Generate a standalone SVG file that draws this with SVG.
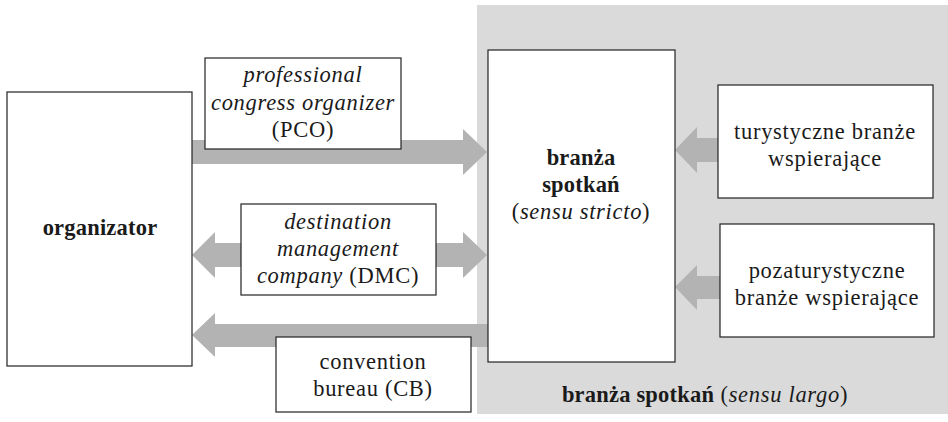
<svg xmlns="http://www.w3.org/2000/svg" width="948" height="422" viewBox="0 0 948 422">
  <style>
    .t { text-anchor: middle; letter-spacing: 0.7px; }
    .b { font-weight: bold; letter-spacing: 0.2px; }
    .i { font-style: italic; }
    .box { fill: #ffffff; stroke: #222222; stroke-width: 1.2; }
    .arrow { fill: #b3b3b3; }
  </style>
  <rect width="948" height="422" fill="#ffffff"/>
  <g font-family="Liberation Serif, Times New Roman, serif" font-size="22.5" fill="#1a1a1a">
    <!-- sensu largo area -->
    <g id="sensu-largo">
      <rect x="477" y="5" width="471" height="409" fill="#dadada"/>
      <text class="t" x="705" y="402"><tspan class="b">branża spotkań</tspan> (<tspan class="i">sensu largo</tspan>)</text>
    </g>

    <!-- connectors: broad block arrows -->
    <g id="connectors">
      <!-- organizator to branza via PCO -->
      <polygon class="arrow" points="192,140 463,140 463,129 487,152 463,175 463,164 192,164"/>
      <!-- DMC both ways -->
      <polygon class="arrow" points="241,243 215,243 215,232 192,255 215,278 215,267 241,267"/>
      <polygon class="arrow" points="436,243 463,243 463,232 487,255 463,278 463,267 436,267"/>
      <!-- branza back to organizator via CB -->
      <polygon class="arrow" points="488,324 215,324 215,313 192,335 215,357 215,347 488,347"/>
      <!-- supporting industries into branza -->
      <polygon class="arrow" points="718,138 697,138 697,127 675,150 697,173 697,162 718,162"/>
      <polygon class="arrow" points="720,276 697,276 697,265 675,287 697,310 697,299 720,299"/>
    </g>

    <g id="organizator">
      <rect class="box" x="7" y="92" width="185" height="274"/>
      <text class="t b" x="100" y="235">organizator</text>
    </g>

    <g id="pco">
      <rect class="box" x="205" y="58" width="196" height="91"/>
      <text class="t i" x="303" y="82">professional</text>
      <text class="t i" x="303" y="110">congress organizer</text>
      <text class="t" x="303" y="137">(PCO)</text>
    </g>

    <g id="dmc">
      <rect class="box" x="241" y="204" width="195" height="91"/>
      <text class="t i" x="338" y="229">destination</text>
      <text class="t i" x="338" y="256">management</text>
      <text class="t" x="338" y="283"><tspan class="i">company</tspan> (DMC)</text>
    </g>

    <g id="cb">
      <rect class="box" x="276" y="337" width="195" height="75"/>
      <text class="t" x="373" y="369">convention</text>
      <text class="t" x="373" y="396">bureau (CB)</text>
    </g>

    <g id="branza-stricto">
      <rect class="box" x="488" y="50" width="187" height="312"/>
      <text class="t b" x="581" y="165">branża</text>
      <text class="t b" x="581" y="192">spotkań</text>
      <text class="t" x="581" y="219">(<tspan class="i">sensu stricto</tspan>)</text>
    </g>

    <g id="turystyczne">
      <rect class="box" x="718" y="85" width="215" height="113"/>
      <text class="t" x="825" y="139">turystyczne branże</text>
      <text class="t" x="825" y="166">wspierające</text>
    </g>

    <g id="pozaturystyczne">
      <rect class="box" x="720" y="224" width="214" height="113"/>
      <text class="t" x="827" y="278">pozaturystyczne</text>
      <text class="t" x="827" y="305">branże wspierające</text>
    </g>
  </g>
</svg>
